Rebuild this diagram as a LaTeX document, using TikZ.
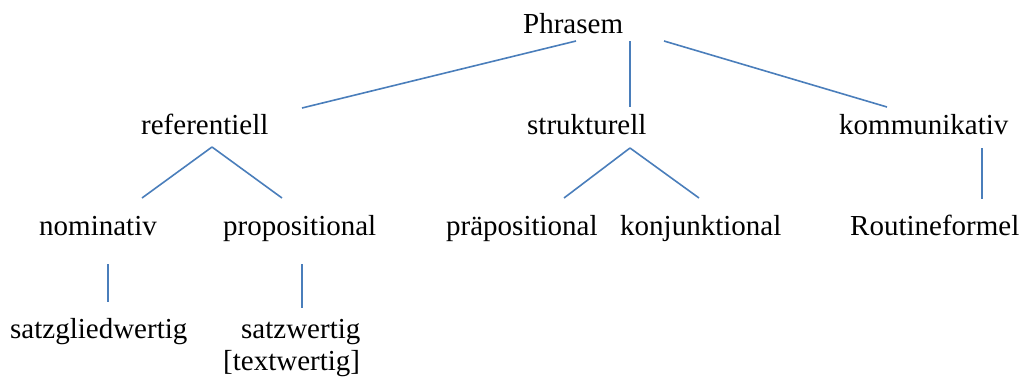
\documentclass[tikz,border=0pt]{standalone}
\usepackage{fontspec}
\setmainfont{Liberation Serif}
\definecolor{edgeblue}{HTML}{4A7EBB}
\begin{document}
\begin{tikzpicture}[x=1pt,y=-1pt,
  lbl/.style={anchor=base west,inner sep=0pt,font=\fontsize{29}{34}\selectfont},
  edge/.style={draw=edgeblue,line width=1.6pt}]
\useasboundingbox (0,0) rectangle (1020,378);
\node[lbl] (phr) at (523,33) {Phrasem};
\node[lbl] (ref) at (141,134) {referentiell};
\node[lbl] (str) at (527,134) {strukturell};
\node[lbl] (kom) at (839,134) {kommunikativ};
\node[lbl] (nom) at (39,235) {nominativ};
\node[lbl] (pro) at (223,235) {propositional};
\node[lbl] (prae) at (446,235) {präpositional};
\node[lbl] (konj) at (620,235) {konjunktional};
\node[lbl] (rout) at (850,235) {Routineformel};
\node[lbl] (satzg) at (10,338) {satzgliedwertig};
\node[lbl] (satzw) at (241,338) {satzwertig};
\node[lbl] (textw) at (223,370) {[textwertig]};
% connector end points
\coordinate (phrL) at (576,41);
\coordinate (phrM) at (630,41);
\coordinate (phrR) at (664,41);
\coordinate (refT) at (302,108);
\coordinate (strT) at (630,107);
\coordinate (komT) at (887,107);
\coordinate (refB) at (212,147);
\coordinate (nomT) at (142,198);
\coordinate (proT) at (282,198);
\coordinate (strB) at (630,148);
\coordinate (praeT) at (564,198);
\coordinate (konjT) at (699,198);
\coordinate (komB) at (982,148);
\coordinate (routT) at (982,199);
\coordinate (nomB) at (108,264);
\coordinate (satzgT) at (108,302);
\coordinate (proB) at (302,264);
\coordinate (satzwT) at (302,308);
\draw[edge] (phrL) -- (refT);
\draw[edge] (phrM) -- (strT);
\draw[edge] (phrR) -- (komT);
\draw[edge] (refB) -- (nomT);
\draw[edge] (refB) -- (proT);
\draw[edge] (strB) -- (praeT);
\draw[edge] (strB) -- (konjT);
\draw[edge] (komB) -- (routT);
\draw[edge] (nomB) -- (satzgT);
\draw[edge] (proB) -- (satzwT);
\end{tikzpicture}
\end{document}
